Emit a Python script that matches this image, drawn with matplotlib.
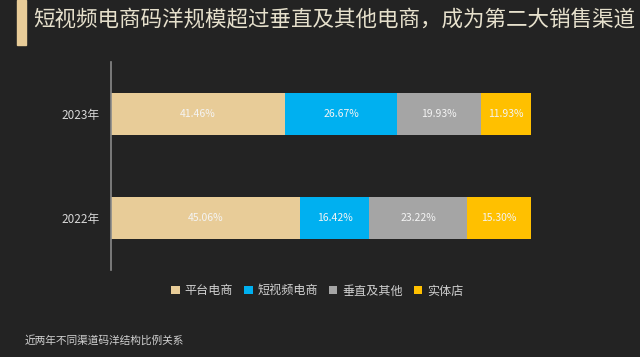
import numpy as np
import matplotlib.pyplot as plt
from matplotlib.patches import Rectangle

plt.rcParams['font.family'] = ['Noto Sans CJK SC', 'DejaVu Sans']

# data
years = ["2022年", "2023年"]
channels = ["平台电商", "短视频电商", "垂直及其他", "实体店"]
shares = {
    "平台电商": [45.06, 41.46],
    "短视频电商": [16.42, 26.67],
    "垂直及其他": [23.22, 19.93],
    "实体店": [15.30, 11.93],
}
colors = ["#E8CC98", "#00B0F0", "#A5A5A5", "#FFC000"]
title = "短视频电商码洋规模超过垂直及其他电商，成为第二大销售渠道"
note = "近两年不同渠道码洋结构比例关系"

bg = "#232323"
fig = plt.figure(figsize=(6.4, 3.57), dpi=100, facecolor=bg)
ax = fig.add_axes([111 / 640, 87 / 357, 420 / 640, 208 / 357])
ax.set_facecolor(bg)

y = np.arange(len(years))
left = np.zeros(len(years))
for name, c in zip(channels, colors):
    vals = np.array(shares[name])
    bars = ax.barh(y, vals, left=left, height=0.4, color=c, label=name)
    for b, v in zip(bars, vals):
        ax.text(b.get_x() + b.get_width() / 2, b.get_y() + b.get_height() / 2,
                f"{v:.2f}%", ha="center", va="center", fontsize=7.5,
                color="#f4f4f4")
    left += vals

ax.set_xlim(0, 100)
ax.set_ylim(-0.5, 1.5)
ax.set_yticks(y)
ax.set_yticklabels(years, color="#d8d8d8", fontsize=8.5)
ax.tick_params(axis="y", length=0, pad=8)
ax.set_xticks([])
for s in ["top", "right", "bottom"]:
    ax.spines[s].set_visible(False)
ax.spines["left"].set_color("#8a8a8a")
ax.spines["left"].set_linewidth(1.2)

leg = fig.legend(loc="center", bbox_to_anchor=(0.496, 0.185), ncol=4,
                 frameon=False, fontsize=8.7, handlelength=0.7, handleheight=0.7,
                 handletextpad=0.4, columnspacing=0.9)
for t in leg.get_texts():
    t.set_color("#d0d0d0")

# title with left accent bar
fig.patches.append(Rectangle((17 / 640, 1 - 45 / 357), 9 / 640, 45 / 357,
                             transform=fig.transFigure, color="#E8CC98"))
fig.text(33 / 640, 1 - 20 / 357, title, fontsize=15.5, color="#e6e0cc",
         ha="left", va="center")
fig.text(25 / 640, 1 - 340 / 357, note, fontsize=7.7, color="#d0d0d0",
         ha="left", va="center")

fig.savefig("out.png", dpi=100, facecolor=bg)
